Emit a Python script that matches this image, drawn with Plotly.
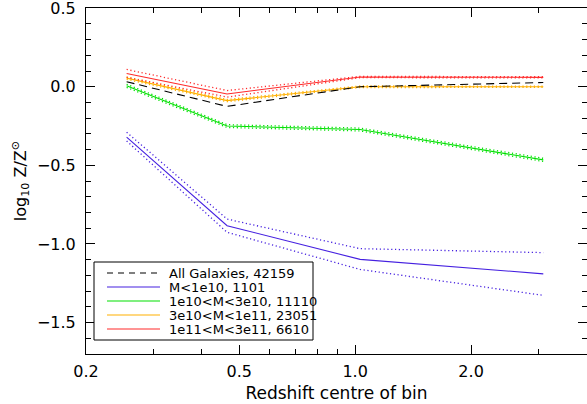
import math
import plotly.graph_objects as go

# ---- data ----
z_centre = [0.255, 0.465, 1.03, 3.08]

all_gal = [0.032, -0.125, 0.0, 0.027]

m_lo = [-0.320, -0.884, -1.098, -1.190]
m_lo_up = [-0.289, -0.842, -1.030, -1.055]
m_lo_dn = [-0.345, -0.926, -1.162, -1.327]

m_1e10 = [0.006, -0.250, -0.272, -0.465]
m_1e10_up = [0.016, -0.241, -0.263, -0.455]
m_1e10_dn = [-0.004, -0.259, -0.281, -0.475]

m_3e10 = [0.055, -0.088, 0.0, 0.0]
m_3e10_up = [0.063, -0.081, 0.005, 0.004]
m_3e10_dn = [0.047, -0.095, -0.005, -0.004]

m_1e11 = [0.084, -0.046, 0.062, 0.060]
m_1e11_up = [0.110, -0.024, 0.066, 0.064]
m_1e11_dn = [0.060, -0.066, 0.058, 0.056]

legend_labels = ["All Galaxies, 42159", "M<1e10, 1101", "1e10<M<3e10, 11110",
                 "3e10<M<1e11, 23051", "1e11<M<3e11, 6610"]
x_tickvals = [0.2, 0.5, 1.0, 2.0]
x_ticktext = ["0.2", "0.5", "1.0", "2.0"]
x_minor = [0.3, 0.4, 0.6, 0.7, 0.8, 0.9, 3.0]
y_tickvals = [0.5, 0.0, -0.5, -1.0, -1.5]
y_ticktext = ["0.5", "0.0", "−0.5", "−1.0", "−1.5"]

# ---- styles ----
BLACK = "#000000"
BLUE = "#4520e0"
GREEN = "#00e000"
ORANGE = "#ffb000"
RED = "#ff2a2a"
FONT = "DejaVu Sans"

fig = go.Figure()

def add(y, color, dash="solid", width=1.0):
    fig.add_trace(go.Scatter(x=z_centre, y=y, mode="lines",
                             line=dict(color=color, dash=dash, width=width),
                             showlegend=False, hoverinfo="skip"))

for main, up, dn, col in [(m_lo, m_lo_up, m_lo_dn, BLUE),
                          (m_1e10, m_1e10_up, m_1e10_dn, GREEN),
                          (m_3e10, m_3e10_up, m_3e10_dn, ORANGE),
                          (m_1e11, m_1e11_up, m_1e11_dn, RED)]:
    add(up, col, "1.2px,2.6px", 1.3)
    add(dn, col, "1.2px,2.6px", 1.3)
    add(main, col, "solid", 1.1)
add(all_gal, BLACK, "8px,5px", 1.1)

# ---- layout geometry ----
W, H = 587, 404
L, R, T, B = 86, 0, 8, 50
pw, ph = W - L - R, H - T - B

def px(xp):
    return (xp - L) / pw

def py(yp):
    return (H - B - yp) / ph

shapes = [dict(type="rect", xref="paper", yref="paper",
               x0=px(94), x1=px(313), y0=py(340), y1=py(262),
               line=dict(color=BLACK, width=1), fillcolor="white")]
annotations = []
leg_cols = [BLACK, BLUE, GREEN, ORANGE, RED]
for i, (lab, col) in enumerate(zip(legend_labels, leg_cols)):
    yy = 273 + 14 * i
    shapes.append(dict(type="line", xref="paper", yref="paper",
                       x0=px(107), x1=px(160), y0=py(yy), y1=py(yy),
                       line=dict(color=col, width=1.1,
                                 dash="6px,5px" if i == 0 else "solid")))
    annotations.append(dict(xref="paper", yref="paper", x=px(167), y=py(yy),
                            xanchor="left", yanchor="middle", showarrow=False,
                            text=lab, font=dict(family=FONT, size=13, color=BLACK)))

axis_common = dict(showline=True, linecolor=BLACK, linewidth=1, mirror="ticks",
                   ticks="inside", tickcolor=BLACK, tickwidth=1, ticklen=9,
                   showgrid=False, zeroline=False, ticklabeloverflow="allow",
                   tickfont=dict(family=FONT, size=16, color=BLACK))

fig.update_layout(
    width=W, height=H,
    margin=dict(l=L, r=R, t=T, b=B),
    paper_bgcolor="white", plot_bgcolor="white",
    shapes=shapes, annotations=annotations,
    xaxis=dict(type="log", range=[math.log10(0.2), math.log10(4.0)],
               tickmode="array", tickvals=x_tickvals, ticktext=x_ticktext,
               minor=dict(tickmode="array", tickvals=x_minor, ticks="inside",
                          ticklen=5, tickcolor=BLACK, showgrid=False),
               title=dict(text="Redshift centre of bin", standoff=6,
                          font=dict(family=FONT, size=17, color=BLACK)),
               ticklabelstandoff=3,
               **axis_common),
    yaxis=dict(range=[-1.7, 0.501], tickmode="array", tickvals=y_tickvals,
               ticktext=y_ticktext,
               minor=dict(dtick=0.1, ticks="inside", ticklen=5,
                          tickcolor=BLACK, showgrid=False),
               title=dict(text="log<sub>10</sub> Z/Z<sup>⊙</sup>", standoff=6,
                          font=dict(family=FONT, size=16, color=BLACK)),
               ticklabelstandoff=6,
               **axis_common),
)

fig.write_html("out.html")
